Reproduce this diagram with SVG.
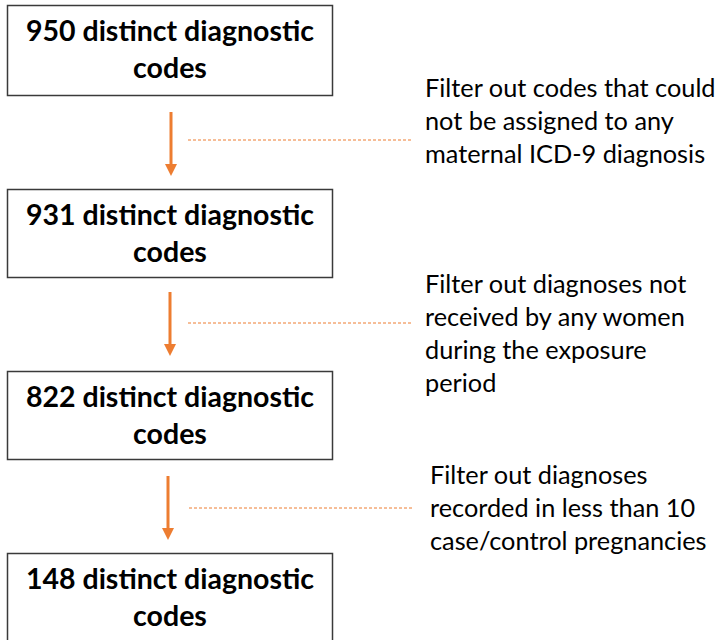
<svg xmlns="http://www.w3.org/2000/svg" width="725" height="640" viewBox="0 0 725 640">
<style>
.box{fill:#fff;stroke:#3a3a3a;stroke-width:1.5}
.bt{font-family:Lato,"Liberation Sans",sans-serif;font-weight:bold;font-size:28.5px;fill:#000;text-anchor:middle}
.nt{font-family:Lato,"Liberation Sans",sans-serif;font-size:25.3px;fill:#000}
.arr{stroke:#ED7D31;stroke-width:3;fill:none}
.dash{stroke:#ED7D31;stroke-width:1;stroke-dasharray:3,2;fill:none}
</style>
<defs>
<marker id="ah" markerWidth="4" markerHeight="4" refX="1" refY="2" orient="auto" markerUnits="strokeWidth">
<path d="M0,0 L4,2 L0,4 z" fill="#ED7D31"/>
</marker>
</defs>
<g id="node1"><rect class="box" x="7.5" y="5.5" width="325" height="90"/>
<text class="bt" x="170" y="41">950 distinct diagnostic</text><text class="bt" x="170" y="78">codes</text></g>
<g id="node2"><rect class="box" x="7.5" y="189.5" width="325" height="88"/>
<text class="bt" x="170" y="225">931 distinct diagnostic</text><text class="bt" x="170" y="262">codes</text></g>
<g id="node3"><rect class="box" x="7.5" y="371.5" width="325" height="88"/>
<text class="bt" x="170" y="407">822 distinct diagnostic</text><text class="bt" x="170" y="444">codes</text></g>
<g id="node4"><rect class="box" x="7.5" y="553.5" width="325" height="100"/>
<text class="bt" x="170" y="589">148 distinct diagnostic</text><text class="bt" x="170" y="626">codes</text></g>
<g id="note1"><text class="nt" x="425" y="97">Filter out codes that could</text><text class="nt" x="425" y="130">not be assigned to any</text><text class="nt" x="425" y="163">maternal ICD-9 diagnosis</text></g>
<g id="note2"><text class="nt" x="425" y="293">Filter out diagnoses not</text><text class="nt" x="425" y="326">received by any women</text><text class="nt" x="425" y="359">during the exposure</text><text class="nt" x="425" y="392">period</text></g>
<g id="note3"><text class="nt" x="430" y="484">Filter out diagnoses</text><text class="nt" x="430" y="517">recorded in less than 10</text><text class="nt" x="430" y="550">case/control pregnancies</text></g>
<g id="connectors">
<line class="arr" x1="171" y1="112" x2="171" y2="167" marker-end="url(#ah)"/>
<line class="arr" x1="170" y1="292" x2="170" y2="347" marker-end="url(#ah)"/>
<line class="arr" x1="168" y1="476" x2="168" y2="531" marker-end="url(#ah)"/>
<line class="dash" x1="188" y1="140" x2="413" y2="140"/>
<line class="dash" x1="188" y1="323" x2="413" y2="323"/>
<line class="dash" x1="189" y1="508" x2="413" y2="508"/>
</g>
</svg>
